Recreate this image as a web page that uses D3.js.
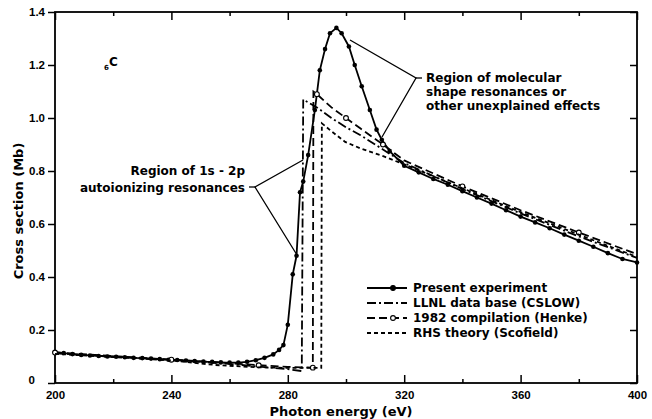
<!DOCTYPE html>
<html>
<head>
<meta charset="utf-8">
<script src="https://cdn.jsdelivr.net/npm/d3@7"></script>
<style>
  body { margin: 0; background: #fff; }
  svg { display: block; font-family: "DejaVu Sans", sans-serif; font-weight: bold; }
</style>
</head>
<body>
<div id="chart"></div>
<script>
// tick labels
var xTicks = [200, 240, 280, 320, 360, 400];
var xMinorTicks = [220, 260, 300, 340, 380];
var yTicks = [0, 0.2, 0.4, 0.6, 0.8, 1.0, 1.2, 1.4];
var yTickLabels = ['0', '0.2', '0.4', '0.6', '0.8', '1.0', '1.2', '1.4'];

// present experiment (solid line with dots)
var presentE = [200, 203, 206, 209, 212, 215, 218, 221, 224, 227, 230, 233, 236, 239, 242, 245, 248, 251, 254, 257, 260, 263, 266, 269, 272, 275, 277, 278.5, 280, 281.7, 283, 284.2, 285.3, 287, 289.3, 291, 292.8, 294.5, 296.7, 298.5, 301, 303, 305.4, 308.2, 310.5, 312.3, 315, 320, 325, 330, 335, 340, 345, 350, 355, 360, 365, 370, 375, 380, 385, 390, 395, 400];
var presentV = [0.117, 0.113, 0.109, 0.106, 0.104, 0.102, 0.1, 0.099, 0.097, 0.095, 0.094, 0.092, 0.09, 0.088, 0.087, 0.085, 0.083, 0.081, 0.08, 0.078, 0.077, 0.077, 0.08, 0.086, 0.095, 0.108, 0.125, 0.143, 0.22, 0.41, 0.48, 0.72, 0.76, 0.86, 1.03, 1.18, 1.26, 1.32, 1.34, 1.32, 1.27, 1.2, 1.12, 1.03, 0.956, 0.918, 0.875, 0.82, 0.795, 0.77, 0.748, 0.724, 0.7, 0.677, 0.652, 0.628, 0.606, 0.584, 0.56, 0.537, 0.514, 0.49, 0.468, 0.455];

// LLNL data base (CSLOW)
var llnlE = [200, 220, 240, 260, 270, 280, 284.8, 285.3, 290, 295, 300, 305, 310, 315, 320, 340, 360, 380, 400];
var llnlV = [0.112, 0.1, 0.087, 0.072, 0.062, 0.052, 0.045, 1.07, 1.04, 1.0, 0.965, 0.935, 0.9, 0.865, 0.83, 0.732, 0.64, 0.553, 0.472];

// 1982 compilation (Henke)
var henkeE = [200, 220, 240, 260, 270, 280, 288.6, 288.8, 290, 295, 300, 305, 312.7, 320, 340, 360, 380, 400];
var henkeV = [0.115, 0.102, 0.088, 0.075, 0.067, 0.061, 0.058, 1.1, 1.09, 1.04, 1.0, 0.96, 0.9, 0.84, 0.742, 0.652, 0.568, 0.486];

// RHS theory (Scofield)
var rhsE = [200, 220, 240, 255, 270, 280, 291.5, 291.7, 295, 299.7, 305, 313, 320, 340, 360, 380, 400];
var rhsV = [0.11, 0.098, 0.085, 0.068, 0.059, 0.057, 0.057, 0.98, 0.95, 0.91, 0.885, 0.855, 0.825, 0.735, 0.645, 0.56, 0.476];

var W = 652, H = 419;
var X0 = 55, X1 = 637, Y0 = 383, Y1 = 12;

var svg = d3.select('#chart').append('svg')
    .attr('width', W)
    .attr('height', H);

var x = d3.scaleLinear().domain([200, 400]).range([X0, X1]);
var y = d3.scaleLinear().domain([0, 1.4]).range([Y0, Y1]);

// frame
svg.append('rect')
    .attr('x', X0).attr('y', Y1)
    .attr('width', X1 - X0).attr('height', Y0 - Y1)
    .attr('fill', 'none').attr('stroke', '#000').attr('stroke-width', 1.8);

// axes
var axisB = svg.append('g').attr('transform', 'translate(0,' + Y0 + ')')
    .call(d3.axisBottom(x).tickValues(xTicks).tickSize(-8).tickPadding(12).tickFormat(d3.format('d')));
svg.append('g').attr('transform', 'translate(0,' + Y0 + ')')
    .call(d3.axisBottom(x).tickValues(xMinorTicks).tickSize(-4).tickFormat(''));
svg.append('g').attr('transform', 'translate(0,' + Y1 + ')')
    .call(d3.axisTop(x).tickValues(xTicks).tickSize(-8).tickFormat(''));
svg.append('g').attr('transform', 'translate(0,' + Y1 + ')')
    .call(d3.axisTop(x).tickValues(xMinorTicks).tickSize(-4).tickFormat(''));
var axisL = svg.append('g').attr('transform', 'translate(' + X0 + ',0)')
    .call(d3.axisLeft(y).tickValues(yTicks).tickSize(7).tickPadding(3)
        .tickFormat(function(d, i) { return yTickLabels[i]; }));
svg.append('g').attr('transform', 'translate(' + X1 + ',0)')
    .call(d3.axisRight(y).tickValues(yTicks).tickSize(-7).tickFormat(''));

svg.selectAll('.domain').remove();
svg.selectAll('.tick line').attr('stroke', '#000').attr('stroke-width', 1.5);
svg.selectAll('.tick text').attr('fill', '#000')
    .style('font-family', '"Liberation Sans", Arial, sans-serif')
    .style('font-size', '11.5px').style('font-weight', 'bold');
axisB.selectAll('.tick text').attr('dy', '0.35em');
// the 0 label sits above the 200 label
axisL.selectAll('.tick').filter(function(d) { return d === 0; })
    .select('text').attr('x', -20).attr('y', -3);

// axis titles
svg.append('text')
    .attr('x', 341).attr('y', 416)
    .attr('text-anchor', 'middle')
    .style('font-size', '13px')
    .text('Photon energy (eV)');
svg.append('text')
    .attr('transform', 'translate(23,211) rotate(-90)')
    .attr('text-anchor', 'middle')
    .style('font-size', '13px')
    .text('Cross section (Mb)');

// element label
var el = svg.append('text').attr('x', 104).attr('y', 66).style('font-size', '12px');
el.append('tspan').style('font-size', '7px').attr('dy', 4).text('6');
el.append('tspan').attr('dy', -4).text('C');

// curves
var series = [
    {name: 'Present experiment', e: presentE, v: presentV, dash: null, marker: 'dot'},
    {name: 'LLNL data base (CSLOW)', e: llnlE, v: llnlV, dash: '9,3,2,3', marker: null},
    {name: '1982 compilation (Henke)', e: henkeE, v: henkeV, dash: '8,4', marker: 'circle'},
    {name: 'RHS theory (Scofield)', e: rhsE, v: rhsV, dash: '4,3', marker: null}
];

var line = d3.line()
    .x(function(d) { return x(d[0]); })
    .y(function(d) { return y(d[1]); });

series.forEach(function(s) {
    var pts = d3.zip(s.e, s.v);
    svg.append('path')
        .datum(pts)
        .attr('d', line)
        .attr('fill', 'none')
        .attr('stroke', '#000')
        .attr('stroke-width', 1.8)
        .attr('stroke-dasharray', s.dash);
    if (s.marker === 'dot') {
        svg.append('g').selectAll('circle')
            .data(pts).enter().append('circle')
            .attr('cx', function(d) { return x(d[0]); })
            .attr('cy', function(d) { return y(d[1]); })
            .attr('r', 2.3)
            .attr('fill', '#000');
    }
    if (s.marker === 'circle') {
        svg.append('g').selectAll('circle')
            .data(pts.filter(function(d, i) { return i % 2 === 0; }))
            .enter().append('circle')
            .attr('cx', function(d) { return x(d[0]); })
            .attr('cy', function(d) { return y(d[1]); })
            .attr('r', 2.4)
            .attr('fill', '#fff')
            .attr('stroke', '#000')
            .attr('stroke-width', 1.1);
    }
});

// annotations
function leader(points) {
    svg.append('path')
        .attr('d', d3.line()(points))
        .attr('fill', 'none')
        .attr('stroke', '#000')
        .attr('stroke-width', 1.3);
}
leader([[350, 40], [416, 78], [382, 137]]);
leader([[416, 78], [422, 78]]);
leader([[303, 160], [255, 187], [297, 255]]);
leader([[249, 187], [255, 187]]);

var molText = ['Region of molecular', 'shape resonances or', 'other unexplained effects'];
svg.append('g').selectAll('text')
    .data(molText).enter().append('text')
    .attr('x', 426)
    .attr('y', function(d, i) { return 82 + i * 14; })
    .style('font-size', '12px')
    .text(function(d) { return d; });

var autoText = ['Region of 1s - 2p', 'autoionizing resonances'];
svg.append('g').selectAll('text')
    .data(autoText).enter().append('text')
    .attr('x', 245)
    .attr('text-anchor', 'end')
    .attr('y', function(d, i) { return 175 + i * 17; })
    .style('font-size', '12px')
    .text(function(d) { return d; });

// legend
var legend = svg.append('g').attr('transform', 'translate(367,288)');
var rows = legend.selectAll('g')
    .data(series).enter().append('g')
    .attr('transform', function(d, i) { return 'translate(0,' + i * 15 + ')'; });
rows.append('line')
    .attr('x1', 0).attr('x2', 40)
    .attr('stroke', '#000').attr('stroke-width', 1.8)
    .attr('stroke-dasharray', function(d) { return d.dash; });
rows.filter(function(d) { return d.marker; }).append('circle')
    .attr('cx', 26).attr('r', 2.4)
    .attr('fill', function(d) { return d.marker === 'dot' ? '#000' : '#fff'; })
    .attr('stroke', '#000').attr('stroke-width', 1.1);
rows.append('text')
    .attr('x', 46).attr('dy', '0.35em')
    .style('font-size', '12px')
    .text(function(d) { return d.name; });
</script>
</body>
</html>
